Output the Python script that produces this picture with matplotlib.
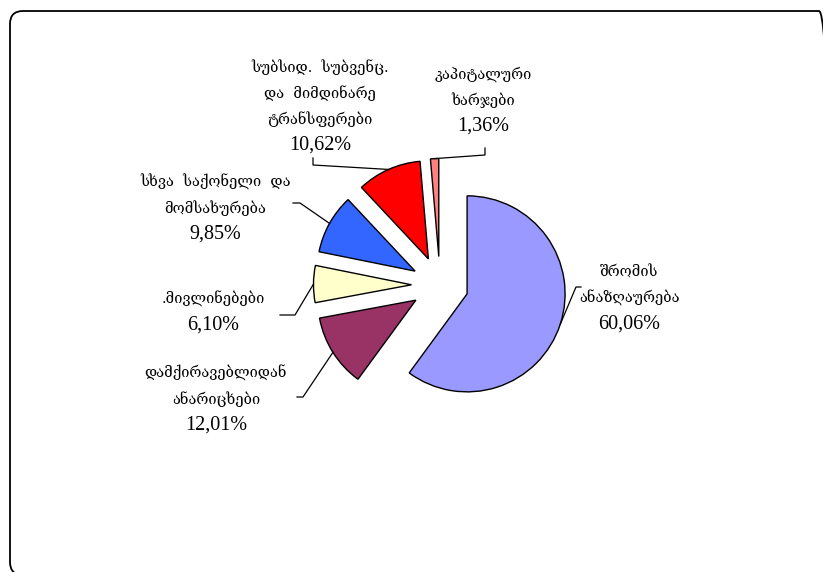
import numpy as np
import matplotlib

matplotlib.use("Agg")
import matplotlib.pyplot as plt
from matplotlib.patches import FancyBboxPatch

# budget structure, shares in percent
labels = [
    "შრომის\nანაზღაურება",
    "დამქირავებლიდან\nანარიცხები",
    ".მივლინებები",
    "სხვა  საქონელი  და\nმომსახურება",
    "სუბსიდ.  სუბვენც.\nდა  მიმდინარე\nტრანსფერები",
    "კაპიტალური\nხარჯები",
]
shares = [60.06, 12.01, 6.10, 9.85, 10.62, 1.36]
colors = ["#9999FF", "#993366", "#FFFFCC", "#3366FF", "#FF0000", "#FF8080"]

# layout in pixel units (y measured from the top of the image)
W, H = 823, 572
CENTER = (440, H - 285)
RADIUS = 98
EXPLODE = 28.5
LINE_H = 26
text_pos = [(629, 298), (216, 399), (213, 312), (215, 208), (320, 106), (483, 100)]
leader_start = [
    [(581, 287), (576, 287)],
    [(297, 397), (303, 397)],
    [(280, 315), (295, 315)],
    [(293, 203), (300, 203)],
    [(313, 158), (313, 165)],
    [(485, 148), (485, 155)],
]

GEO_FONT = ["DejaVu Serif", "DejaVu Sans"]
NUM_FONT = ["Liberation Serif", "DejaVu Serif"]

fig = plt.figure(figsize=(W / 100, H / 100), dpi=100)
ax = fig.add_axes([0, 0, 1, 1])

wedges, _ = ax.pie(shares, colors=colors, startangle=90, counterclock=False,
                   explode=[EXPLODE] * len(shares), radius=RADIUS, center=CENTER,
                   wedgeprops=dict(edgecolor="black", linewidth=1))
ax.set_xlim(0, W)
ax.set_ylim(0, H)
ax.set_aspect("equal")
ax.axis("off")

for w, lab, v, (tx, ty), pts in zip(wedges, labels, shares, text_pos, leader_start):
    mid = np.deg2rad((w.theta1 + w.theta2) / 2)
    px = w.center[0] + w.r * np.cos(mid)
    py = w.center[1] + w.r * np.sin(mid)
    xs = [p[0] for p in pts] + [px]
    ys = [H - p[1] for p in pts] + [py]
    ax.plot(xs, ys, color="black", lw=0.9)

    lines = lab.split("\n")
    pct = f"{v:.2f}".replace(".", ",") + "%"
    n = len(lines) + 1
    for i, line in enumerate(lines):
        y = ty + (i - (n - 1) / 2) * LINE_H
        ax.text(tx, H - y, line, ha="center", va="center", fontsize=10.5,
                family=GEO_FONT)
    y = ty + ((n - 1) - (n - 1) / 2) * LINE_H
    ax.text(tx, H - y, pct, ha="center", va="center", fontsize=14.5,
            family=NUM_FONT)

# rounded frame, running off the right and bottom edges like the original
border = FancyBboxPatch((10, -3), 822, 564, boxstyle="round,pad=0,rounding_size=13",
                        fill=False, edgecolor="black", lw=1.3, clip_on=False)
ax.add_patch(border)

fig.savefig("out.png", dpi=100)
